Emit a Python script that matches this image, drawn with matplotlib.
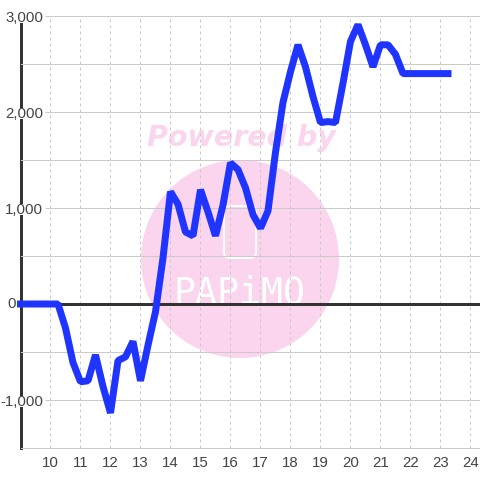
import matplotlib
matplotlib.use("Agg")
import matplotlib.pyplot as plt
from matplotlib.patches import Circle, FancyBboxPatch

hours = [9, 9.25, 9.5, 9.75, 10, 10.25, 10.5, 10.75, 11, 11.25, 11.5, 11.75,
         12, 12.25, 12.5, 12.75, 13, 13.25, 13.5, 13.75, 14, 14.25, 14.5, 14.75,
         15, 15.25, 15.5, 15.75, 16, 16.25, 16.5, 16.75, 17, 17.25, 17.5, 17.75,
         18, 18.25, 18.5, 18.75, 19, 19.25, 19.5, 19.75, 20, 20.25, 20.5, 20.75,
         21, 21.25, 21.5, 21.75, 22, 22.25, 22.5, 22.75, 23, 23.25]
values = [0, 0, 0, 0, 0, 0, -250, -610, -810, -800, -530, -860,
          -1135, -590, -550, -390, -800, -430, -80, 480, 1170, 1040, 750, 710,
          1190, 960, 710, 1030, 1470, 1400, 1210, 930, 790, 970, 1580, 2100,
          2420, 2700, 2470, 2160, 1890, 1900, 1890, 2300, 2735, 2910, 2700, 2470,
          2700, 2700, 2600, 2400, 2400, 2400, 2400, 2400, 2400, 2400]

x_ticks = [10, 11, 12, 13, 14, 15, 16, 17, 18, 19, 20, 21, 22, 23, 24]
y_major = [-1000, 0, 1000, 2000, 3000]
y_labels = ["-1,000", "", "1,000", "2,000", "3,000"]
zero_label = "0"
y_solid = [-1000, 1000, 2000, 3000]
y_minor = [-500, 500, 1500, 2500]

plt.rcParams['font.family'] = ['Liberation Sans', 'DejaVu Sans']

PX = 72 / 100
PINK = "#fbd5ee"
DARK = "#333333"
TEXT = "#444444"
GRID = "#cacaca"

fig = plt.figure(figsize=(4.8, 4.8), dpi=100, facecolor="white")
ax = fig.add_axes([20.5 / 480, (480 - 448) / 480, 459.5 / 480, 432 / 480])
ax.patch.set_alpha(0)

# watermark sits behind the axes
fig.add_artist(Circle((240 / 480, 1 - 259 / 480), 99 / 480, transform=fig.transFigure,
                      fc=PINK, ec="none", zorder=-3))
fig.add_artist(FancyBboxPatch((224 / 480, 1 - 258 / 480), 32 / 480, 52 / 480,
                              boxstyle="round,pad=0,rounding_size=0.012",
                              transform=fig.transFigure, fc="none", ec="white",
                              lw=2 * PX, zorder=-2))
fig.text(241 / 480, 1 - 146 / 480, "Powered by", color=PINK, fontsize=20.5,
         family="DejaVu Sans", weight="bold", style="oblique",
         ha="center", va="baseline", zorder=-2)
fig.text(239.5 / 480, 1 - 303 / 480, "PAPiMO", color="white", fontsize=26.3,
         family="DejaVu Sans Mono", ha="center", va="baseline", zorder=-2)

ax.set_xlim(9, 24.317)
ax.set_ylim(-1500, 3000)
ax.set_axisbelow("line")

ax.set_xticks(x_ticks)
ax.set_yticks(y_major, y_labels)
ax.set_yticks(y_minor, minor=True)
ax.tick_params(axis="both", which="both", length=0)
ax.tick_params(axis="x", labelsize=10.8, labelcolor=TEXT, pad=5.5)
ax.tick_params(axis="y", labelsize=10.8, labelcolor=TEXT, pad=-16.2)
for lab in ax.get_yticklabels():
    lab.set_bbox(dict(fc="white", ec="none", pad=-1))

ax.grid(axis="y", which="minor", color=GRID, lw=1 * PX)
ax.grid(axis="x", which="major", color=GRID, lw=1 * PX, ls=(0, (3, 3)))
ax.hlines(y_solid, 9.82, 24.317, color=GRID, lw=1 * PX, zorder=1.4, clip_on=False)

for side in ["top", "right"]:
    ax.spines[side].set_visible(False)
ax.spines["bottom"].set_color(GRID)
ax.spines["bottom"].set_linewidth(1 * PX)
ax.spines["left"].set_color(DARK)
ax.spines["left"].set_linewidth(3 * PX)
ax.spines["left"].set_bounds(-1500, 2917)
ax.spines["left"].set_zorder(1.2)

ax.annotate(zero_label, xy=(9, 0), xytext=(-3, 0), textcoords="offset points",
            ha="right", va="center", fontsize=10.8, color=TEXT, annotation_clip=False)

ax.axhline(0, color=DARK, lw=3 * PX, zorder=1.8)
ax.plot(hours, values, color="#1f35ff", lw=7 * PX, solid_capstyle="projecting",
        solid_joinstyle="bevel", clip_on=False, zorder=3)

fig.savefig("out.png", dpi=100)
